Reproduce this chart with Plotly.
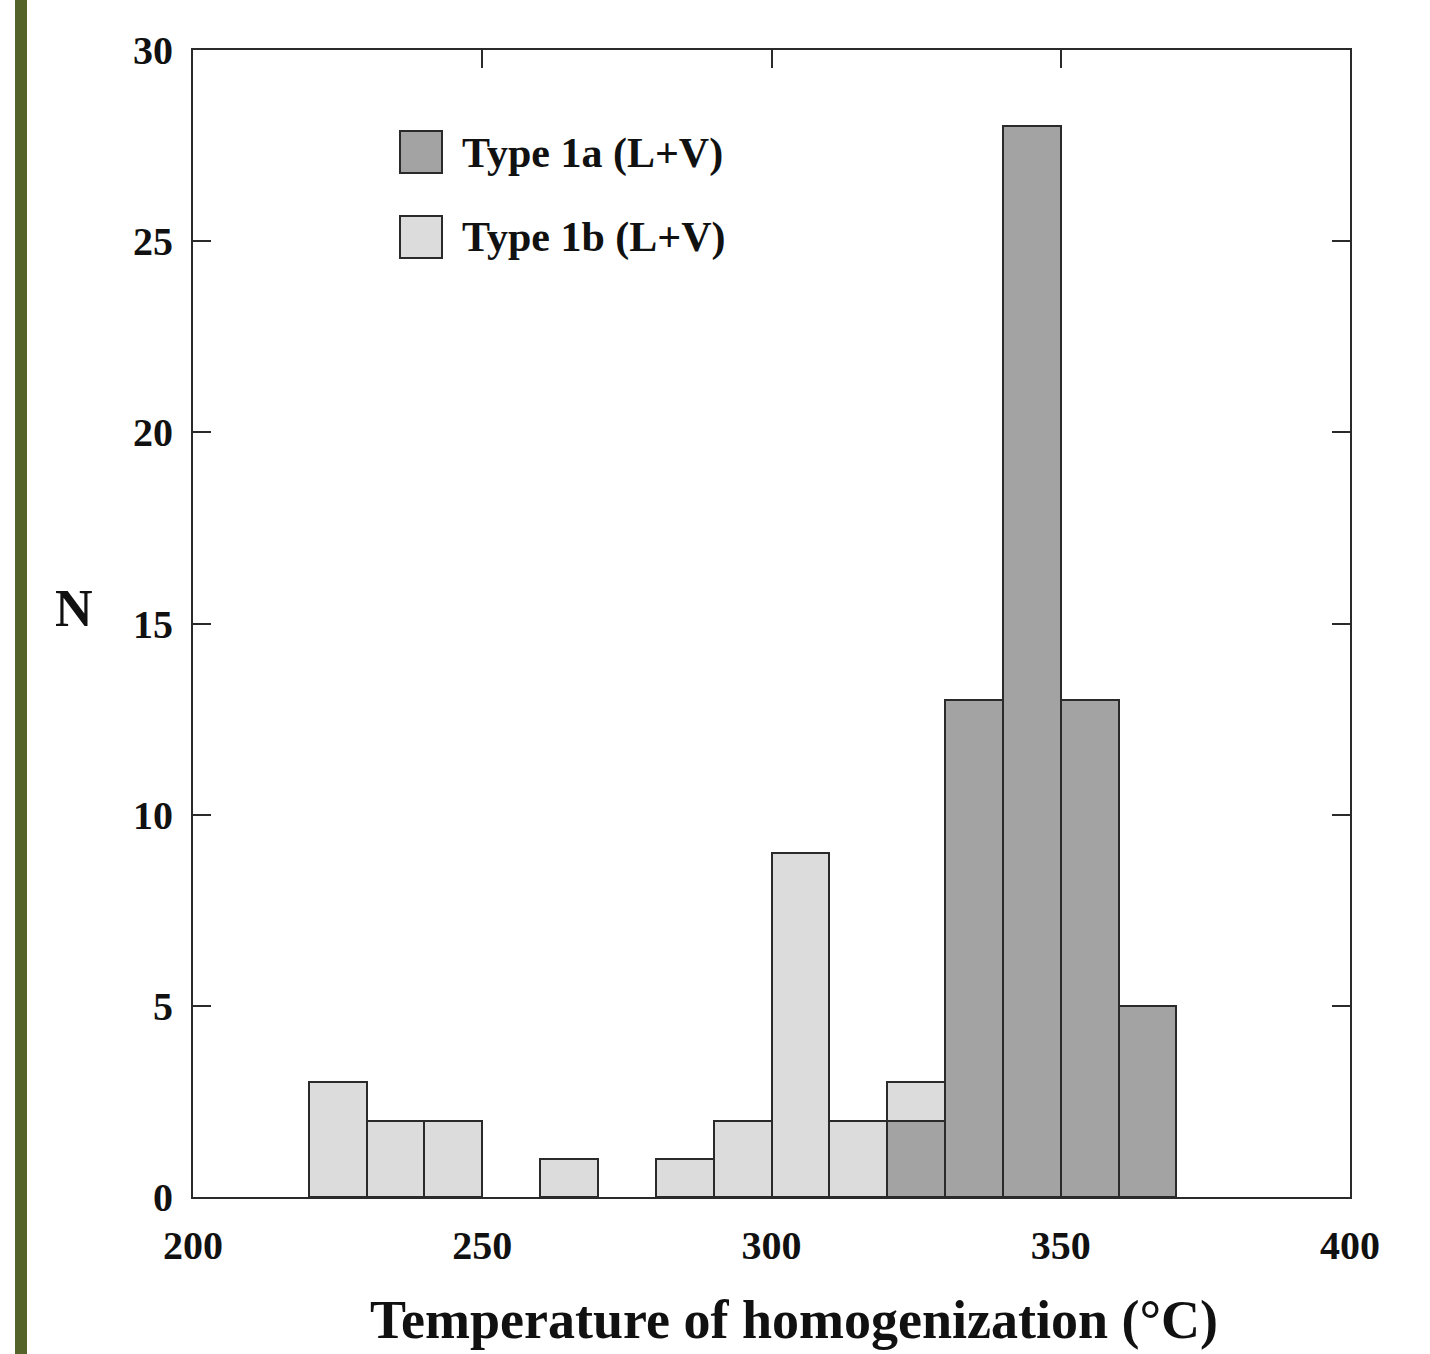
import plotly.graph_objects as go

# Data (bin left edges in °C, counts)
bin_width = 10
type1a_name = "Type 1a (L+V)"
type1a_bins = [320, 330, 340, 350, 360]
type1a_counts = [2, 13, 28, 13, 5]

type1b_name = "Type 1b (L+V)"
type1b_bins = [220, 230, 240, 260, 280, 290, 300, 310, 320]
type1b_counts = [3, 2, 2, 1, 1, 2, 9, 2, 3]

x_ticks = [200, 250, 300, 350, 400]
y_ticks = [0, 5, 10, 15, 20, 25, 30]
x_title = "Temperature of homogenization (°C)"
y_title = "N"

W, H = 1430, 1354
ML, MR, MT, MB = 193, 80, 50, 157
PW, PH = W - ML - MR, H - MT - MB

DARK = "#a3a3a3"
LIGHT = "#dcdcdc"
EDGE = "#2a2a2a"
FONT = "Liberation Serif"
TXT = "#111111"

fig = go.Figure()
fig.add_trace(go.Bar(
    x=[b + bin_width / 2 for b in type1b_bins], y=type1b_counts, width=bin_width,
    name=type1b_name, marker=dict(color=LIGHT, line=dict(color=EDGE, width=2)),
    showlegend=False))
fig.add_trace(go.Bar(
    x=[b + bin_width / 2 for b in type1a_bins], y=type1a_counts, width=bin_width,
    name=type1a_name, marker=dict(color=DARK, line=dict(color=EDGE, width=2)),
    showlegend=False))

def px_x(p):
    return (p - ML) / PW

def px_y(p):
    return 1 - (p - MT) / PH

shapes = [
    # green side bar
    dict(type="rect", xref="paper", yref="paper", x0=px_x(15), x1=px_x(27),
         y0=px_y(H + 5), y1=px_y(-5), fillcolor="#536329", line=dict(width=0), layer="above"),
]
annotations = []
for i, (name, col) in enumerate([(type1a_name, DARK), (type1b_name, LIGHT)]):
    top = 131 + i * 85
    shapes.append(dict(type="rect", xref="paper", yref="paper",
                       x0=px_x(400), x1=px_x(442), y0=px_y(top + 42), y1=px_y(top),
                       fillcolor=col, line=dict(color=EDGE, width=2)))
    annotations.append(dict(xref="paper", yref="paper", x=px_x(460), y=px_y(top + 22),
                            text=name, showarrow=False, xanchor="left", yanchor="middle",
                            font=dict(family=FONT, size=42, color=TXT, weight="bold")))
# y-axis title (horizontal "N")
annotations.append(dict(xref="paper", yref="paper", x=px_x(74), y=px_y(608),
                        text=y_title, showarrow=False, xanchor="center", yanchor="middle",
                        font=dict(family=FONT, size=52, color=TXT, weight="bold")))
# x-axis title
annotations.append(dict(xref="paper", yref="paper", x=px_x(794), y=px_y(1352),
                        text=x_title, showarrow=False, xanchor="center", yanchor="bottom",
                        font=dict(family=FONT, size=54, color=TXT, weight="bold")))

tickfont = dict(family=FONT, size=40, color=TXT, weight="bold")
fig.update_layout(
    width=W, height=H, margin=dict(l=ML, r=MR, t=MT, b=MB),
    paper_bgcolor="white", plot_bgcolor="white",
    barmode="overlay", bargap=0,
    shapes=shapes, annotations=annotations,
    font=dict(family=FONT, color=TXT),
    xaxis=dict(range=[200, 400], tickvals=x_ticks, ticks="inside", ticklen=18, tickwidth=2,
               tickcolor=EDGE, showline=True, linecolor=EDGE, linewidth=2, mirror="ticks",
               showgrid=False, zeroline=False, ticklabelstandoff=12,
               tickfont=tickfont),
    yaxis=dict(range=[0, 30], tickvals=y_ticks, ticks="inside", ticklen=18, tickwidth=2,
               tickcolor=EDGE, showline=True, linecolor=EDGE, linewidth=2, mirror="ticks",
               showgrid=False, zeroline=False, ticklabelstandoff=10,
               tickfont=tickfont),
)

fig.write_html("out.html")
